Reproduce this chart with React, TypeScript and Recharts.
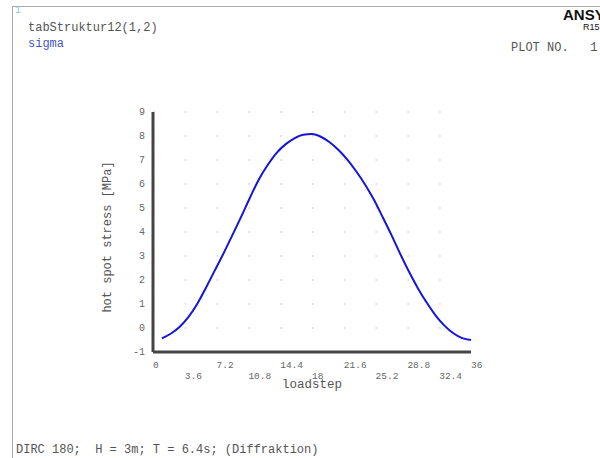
import React from 'react';
import { LineChart, Line, XAxis, YAxis, CartesianGrid } from 'recharts';

// loadstep 1..36, hot spot stress [MPa]
const loadsteps = [
  1, 2, 3, 4, 5, 6, 7, 8, 9, 10, 11, 12, 13, 14, 15, 16, 17, 18,
  19, 20, 21, 22, 23, 24, 25, 26, 27, 28, 29, 30, 31, 32, 33, 34, 35, 36,
];
const sigma = [
  -0.43, -0.24, 0.04, 0.45, 1.0, 1.68, 2.4, 3.12, 3.88, 4.65, 5.45, 6.2, 6.8, 7.3, 7.65, 7.9, 8.05, 8.08,
  7.97, 7.74, 7.42, 7.02, 6.53, 5.98, 5.35, 4.62, 3.87, 3.08, 2.33, 1.65, 1.05, 0.52, 0.1, -0.22, -0.42, -0.5,
];
const xTicks = [0, 3.6, 7.2, 10.8, 14.4, 18, 21.6, 25.2, 28.8, 32.4, 36];
const yTicks = [-1, 0, 1, 2, 3, 4, 5, 6, 7, 8, 9];

const chartData = loadsteps.map((s, i) => ({ step: s, sigma: sigma[i] }));

const mono = '"Liberation Mono", "DejaVu Sans Mono", monospace';
const grey = '#555555';

const XTick = ({ x, y, payload }: any) => {
  const odd = Math.round(payload.value / 3.6) % 2 === 1;
  return (
    <text x={x} y={y + (odd ? 19 : 8)} fill="#666" fontSize={9.5} fontFamily={mono} textAnchor="start">
      {payload.value}
    </text>
  );
};

const YTick = ({ x, y, payload }: any) => (
  <text x={x} y={y + 3} fill="#666" fontSize={10} fontFamily={mono} textAnchor="end">
    {payload.value}
  </text>
);

export default function App() {
  return (
    <div style={{ position: 'absolute', left: 0, top: 0, width: 600, height: 458, background: '#fff', overflow: 'hidden' }}>
      {/* frame */}
      <div style={{ position: 'absolute', left: 12, top: 6, width: 1, height: 452, background: '#aaa' }} />
      <div style={{ position: 'absolute', left: 12, top: 6, width: 588, height: 1, background: '#aaa' }} />

      <div style={{ position: 'absolute', left: 15, top: 5, fontSize: 10, color: '#8cc', fontFamily: mono }}>1</div>
      <div style={{ position: 'absolute', left: 28, top: 21, fontSize: 12, color: grey, fontFamily: mono }}>tabStruktur12(1,2)</div>
      <div style={{ position: 'absolute', left: 28, top: 37, fontSize: 12, color: '#4a55c8', fontFamily: mono }}>sigma</div>

      <div style={{ position: 'absolute', left: 563, top: 6, fontSize: 15, fontWeight: 'bold', color: '#111', fontFamily: '"Liberation Sans", Arial, sans-serif', whiteSpace: 'nowrap' }}>ANSYS</div>
      <div style={{ position: 'absolute', left: 583, top: 22, fontSize: 9, color: '#111', fontFamily: '"Liberation Sans", Arial, sans-serif', whiteSpace: 'nowrap' }}>R15.0</div>
      <div style={{ position: 'absolute', left: 511, top: 41, fontSize: 12, color: grey, fontFamily: mono, whiteSpace: 'pre' }}>PLOT NO.   1</div>

      <div style={{ position: 'absolute', left: 16, top: 443, fontSize: 12, color: grey, fontFamily: mono, whiteSpace: 'pre' }}>
        DIRC 180;  H = 3m; T = 6.4s; (Diffraktion)
      </div>

      <div
        style={{
          position: 'absolute', left: 108, top: 237, fontSize: 12, color: grey, fontFamily: mono,
          whiteSpace: 'nowrap', transform: 'translate(-50%, -50%) rotate(-90deg)',
        }}
      >
        hot spot stress [MPa]
      </div>
      <div style={{ position: 'absolute', left: 312, top: 378, fontSize: 12.5, color: grey, fontFamily: mono, transform: 'translateX(-50%)' }}>
        loadstep
      </div>

      <div style={{ position: 'absolute', left: 0, top: 0 }}>
        <LineChart width={600} height={458} data={chartData} margin={{ top: 112, right: 129, left: 93, bottom: 76 }}>
          <CartesianGrid vertical={false} stroke="#bbbbbb" strokeDasharray="1.5 30.3" />
          <XAxis
            dataKey="step"
            type="number"
            domain={[0, 36]}
            ticks={xTicks}
            interval={0}
            height={30}
            axisLine={{ stroke: '#444', strokeWidth: 3 }}
            tickLine={false}
            tick={<XTick />}
          />
          <YAxis
            type="number"
            domain={[-1, 9]}
            ticks={yTicks}
            interval={0}
            width={60}
            axisLine={{ stroke: '#444', strokeWidth: 3 }}
            tickLine={false}
            tick={<YTick />}
          />
          <Line
            type="monotone"
            dataKey="sigma"
            stroke="#1515d8"
            strokeWidth={2}
            dot={false}
            isAnimationActive={false}
          />
        </LineChart>
      </div>
    </div>
  );
}
